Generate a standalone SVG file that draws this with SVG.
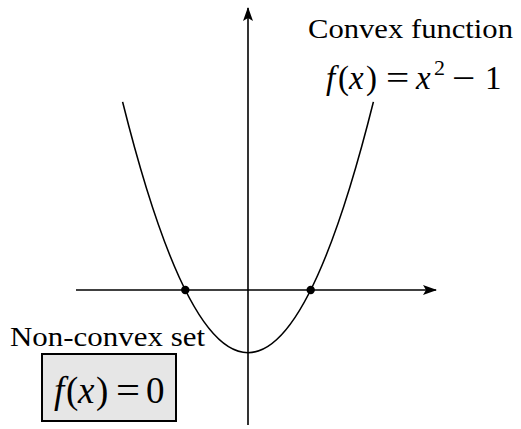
<svg xmlns="http://www.w3.org/2000/svg" width="521" height="429" viewBox="0 0 521 429">
<style>
.t{font-family:"Liberation Serif","DejaVu Serif",serif;font-size:28px;fill:#000}
.m{font-family:"Liberation Serif","DejaVu Serif",serif;font-size:33px;fill:#000}
.b{font-family:"Liberation Serif","DejaVu Serif",serif;font-size:37px;fill:#000}
.s{font-family:"Liberation Serif","DejaVu Serif",serif;font-size:22px;fill:#000}
.i{font-style:italic}
.ax{stroke:#000;stroke-width:1.6;fill:none}
</style>
<defs>
<marker id="ah" viewBox="0 0 14 10" refX="13" refY="5" markerWidth="14" markerHeight="10" markerUnits="userSpaceOnUse" orient="auto">
<path d="M0,0 L14,5 L0,10 L3,5 Z" fill="#000"/>
</marker>
</defs>
<g id="connectors">
<line class="ax" x1="76" y1="290" x2="436" y2="290" marker-end="url(#ah)"/>
<line class="ax" x1="248" y1="425" x2="248" y2="8" marker-end="url(#ah)"/>
<path class="ax" d="M122.6,101.9 Q248,603.5 373.4,101.9"/>
</g>
<g id="roots">
<circle cx="185.3" cy="290" r="4.2" fill="#000"/>
<circle cx="310.7" cy="290" r="4.2" fill="#000"/>
</g>
<g id="convex-label">
<text class="t" x="308" y="38" textLength="205" lengthAdjust="spacingAndGlyphs">Convex function</text>
<text class="m" y="89"><tspan class="i" x="326">f</tspan><tspan x="338">(</tspan><tspan class="i" x="349">x</tspan><tspan x="366">)</tspan></text>
<text class="m" transform="translate(386,89) scale(1.25,1)">=</text>
<text class="m i" x="416" y="89">x</text>
<text class="s" x="434" y="75">2</text>
<text class="m" transform="translate(452,89) scale(1.25,1)">−</text>
<text class="m" x="485" y="89">1</text>
</g>
<g id="nonconvex-set">
<text class="t" x="10" y="346" textLength="195" lengthAdjust="spacingAndGlyphs">Non-convex set</text>
<rect x="42" y="354" width="134" height="67" fill="#e6e6e6" stroke="#000" stroke-width="2"/>
<text class="b" y="403"><tspan class="i" x="54">f</tspan><tspan x="66">(</tspan><tspan class="i" x="78">x</tspan><tspan x="96">)</tspan></text>
<text class="b" transform="translate(116,403) scale(1.15,1)">=</text>
<text class="b" x="146" y="403">0</text>
</g>
</svg>
